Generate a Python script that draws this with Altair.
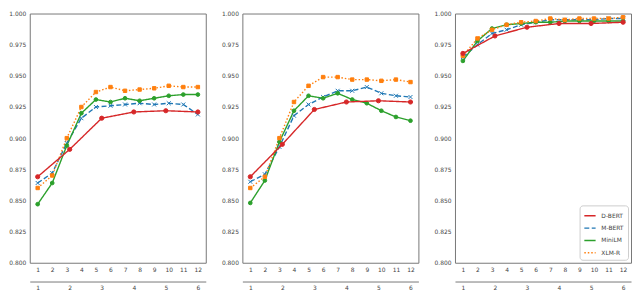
import altair as alt
import pandas as pd

models = ["D-BERT", "M-BERT", "MiniLM", "XLM-R"]
colors = ["#d62728", "#1f77b4", "#2ca02c", "#ff7f0e"]
dashes = [[1, 0], [5, 2.5], [1, 0], [1.5, 2]]
shapes = ["circle", "M-1,-1L1,1M1,-1L-1,1", "circle", "square"]
sizes = [18, 12, 18, 5]

layers12 = list(range(1, 13))
layers6 = list(range(1, 7))
yticks = [0.800, 0.825, 0.850, 0.875, 0.900, 0.925, 0.950, 0.975, 1.000]

# Panel 1
p1_dbert = [0.869, 0.891, 0.916, 0.921, 0.922, 0.921]
p1_mbert = [0.864, 0.872, 0.896, 0.916, 0.925, 0.926, 0.927, 0.928, 0.927, 0.928, 0.927, 0.919]
p1_minilm = [0.847, 0.864, 0.894, 0.920, 0.931, 0.929, 0.932, 0.930, 0.932, 0.934, 0.935, 0.935]
p1_xlmr = [0.860, 0.870, 0.900, 0.925, 0.937, 0.941, 0.938, 0.939, 0.940, 0.942, 0.941, 0.941]

# Panel 2
p2_dbert = [0.869, 0.895, 0.923, 0.929, 0.930, 0.929]
p2_mbert = [0.865, 0.871, 0.893, 0.918, 0.927, 0.933, 0.938, 0.938, 0.941, 0.936, 0.934, 0.933]
p2_minilm = [0.848, 0.866, 0.897, 0.922, 0.934, 0.932, 0.936, 0.931, 0.928, 0.922, 0.917, 0.914]
p2_xlmr = [0.860, 0.869, 0.900, 0.929, 0.942, 0.949, 0.949, 0.947, 0.947, 0.946, 0.947, 0.945]

# Panel 3
p3_dbert = [0.968, 0.982, 0.989, 0.992, 0.992, 0.993]
p3_mbert = [0.965, 0.975, 0.984, 0.987, 0.991, 0.993, 0.995, 0.995, 0.995, 0.995, 0.996, 0.996]
p3_minilm = [0.962, 0.978, 0.988, 0.991, 0.992, 0.993, 0.993, 0.994, 0.994, 0.994, 0.994, 0.994]
p3_xlmr = [0.966, 0.980, 0.987, 0.991, 0.993, 0.994, 0.996, 0.995, 0.996, 0.996, 0.996, 0.997]

W, H = 178, 252
LABEL_FONT = "DejaVu Sans"


def panel(dbert, mbert, minilm, xlmr, show_legend):
    main_df = pd.DataFrame({
        "layer": layers12 * 3,
        "acc": mbert + minilm + xlmr,
        "model": ["M-BERT"] * 12 + ["MiniLM"] * 12 + ["XLM-R"] * 12,
    })
    db_df = pd.DataFrame({"layer": layers6, "acc": dbert, "model": ["D-BERT"] * 6})

    if show_legend:
        legend = alt.Legend(
            title=None, orient="bottom-right", offset=3, symbolType="stroke",
            symbolSize=130, symbolStrokeWidth=1.5, labelFontSize=6,
            labelFont=LABEL_FONT, labelColor="#444", fillColor="white",
            strokeColor="#cccccc", cornerRadius=3, padding=4, rowPadding=2.5,
            labelOffset=5,
        )
    else:
        legend = None

    y = alt.Y("acc:Q", scale=alt.Scale(domain=[0.8, 1.0], nice=False, zero=False),
              axis=alt.Axis(values=yticks, format=".3f", title=None, ticks=False,
                            domain=False, grid=False, labelPadding=4))
    color = alt.Color("model:N", scale=alt.Scale(domain=models, range=colors), legend=legend)
    dash = alt.StrokeDash("model:N", scale=alt.Scale(domain=models, range=dashes), legend=legend)
    stroke = alt.Stroke("model:N", scale=alt.Scale(domain=models, range=colors), legend=None)
    shape = alt.Shape("model:N", scale=alt.Scale(domain=models, range=shapes), legend=None)
    size = alt.Size("model:N", scale=alt.Scale(domain=models, range=sizes), legend=None)

    x_main = alt.X("layer:Q",
                   scale=alt.Scale(domain=[1, 12], padding=8, nice=False, zero=False),
                   axis=alt.Axis(values=layers12, title=None, domain=False, ticks=False,
                                 grid=False, labelPadding=4))
    x_db = alt.X("layer:Q",
                 scale=alt.Scale(domain=[1, 6], padding=8, nice=False, zero=False),
                 axis=alt.Axis(values=layers6, title=None, orient="bottom", offset=19,
                               domain=True, domainColor="#777", domainWidth=1,
                               ticks=False, grid=False, labelPadding=3))

    main_base = alt.Chart(main_df)
    main = alt.layer(
        main_base.mark_line(strokeWidth=1.4).encode(x=x_main, y=y, color=color, strokeDash=dash),
        main_base.mark_point(filled=True, strokeWidth=1.0, opacity=1).encode(
            x=x_main, y=y, color=color, stroke=stroke, shape=shape, size=size),
    )
    db_base = alt.Chart(db_df)
    db = alt.layer(
        db_base.mark_line(strokeWidth=1.4).encode(x=x_db, y=y, color=color, strokeDash=dash),
        db_base.mark_point(filled=True, strokeWidth=1.0, opacity=1).encode(
            x=x_db, y=y, color=color, stroke=stroke, shape=shape, size=size),
    )
    return alt.layer(main, db).resolve_scale(x="independent").properties(width=W, height=H)


chart = alt.hconcat(
    panel(p1_dbert, p1_mbert, p1_minilm, p1_xlmr, False),
    panel(p2_dbert, p2_mbert, p2_minilm, p2_xlmr, False),
    panel(p3_dbert, p3_mbert, p3_minilm, p3_xlmr, True),
    spacing=14,
).resolve_legend(
    color="independent", strokeDash="independent"
).properties(
    padding={"left": 0, "top": 0, "right": 0, "bottom": 0},
    background="white",
).configure_view(
    stroke="#777", strokeWidth=1
).configure_axis(
    labelFont=LABEL_FONT, labelFontSize=6, labelColor="#444", grid=False
)

chart.save("out.html", embed_options={"renderer": "svg", "actions": False})
